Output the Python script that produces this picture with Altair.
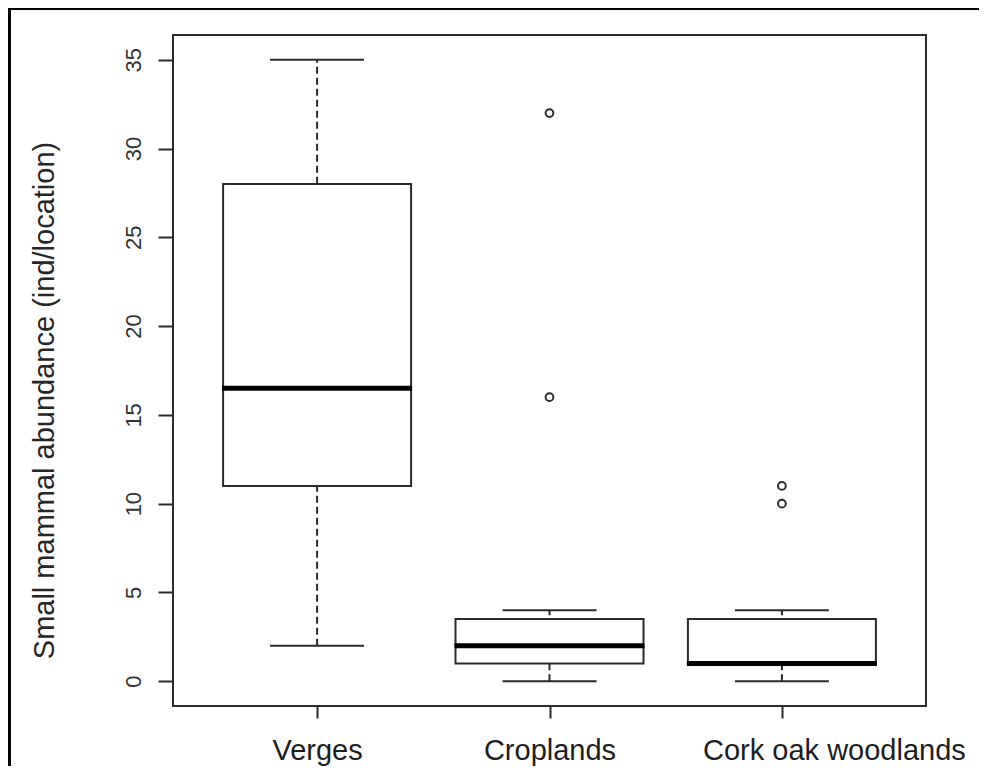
import altair as alt
import pandas as pd

# ---- data ----
categories = ["Verges", "Croplands", "Cork oak woodlands"]
whisker_low = [2, 0, 0]
q1 = [11, 1, 1]
median = [16.5, 2, 1]
q3 = [28, 3.5, 3.5]
whisker_high = [35, 4, 4]

outlier_cat = ["Croplands", "Croplands", "Cork oak woodlands", "Cork oak woodlands"]
outlier_val = [16, 32, 10, 11]

y_ticks = [0, 5, 10, 15, 20, 25, 30, 35]

box_df = pd.DataFrame({
    "habitat": categories,
    "lo": whisker_low,
    "q1": q1,
    "med": median,
    "q3": q3,
    "hi": whisker_high,
})
out_df = pd.DataFrame({"habitat": outlier_cat, "value": outlier_val})
frame_df = pd.DataFrame({"k": [0]})

LINE = "#2b2b2b"
TEXT = "#1e1e1e"
FONT = "Liberation Sans"

x_enc = alt.X(
    "habitat:N",
    sort=categories,
    scale=alt.Scale(type="point", padding=0.62, domain=categories),
    axis=alt.Axis(
        title=None,
        domain=False,
        grid=False,
        labelAngle=0,
        labelFont=FONT,
        labelFontSize=29,
        labelColor=TEXT,
        labelBaseline="alphabetic",
        labelAlign="center",
        labelPadding=41,
        labelOffset={"condition": {"test": "datum.value == 'Cork oak woodlands'", "value": 52},
                     "value": 0},
        labelLimit=600,
        labelOverlap=False,
        labelBound=False,
        tickSize=12,
        tickWidth=2,
        tickColor=LINE,
    ),
)

y_scale = alt.Scale(domain=[-1.4, 36.4], nice=False, zero=False)
y_axis = alt.Axis(
    title="Small mammal abundance (ind/location)",
    values=y_ticks,
    domain=False,
    grid=False,
    labelFont=FONT,
    labelFontSize=22,
    labelColor="#333333",
    labelAngle=270,
    labelAlign="center",
    labelBaseline="alphabetic",
    labelPadding=18,
    tickSize=15,
    tickWidth=2,
    tickColor=LINE,
    titleFont=FONT,
    titleFontSize=29,
    titleFontWeight="normal",
    titleColor="#262626",
    titleAngle=270,
    titleAlign="center",
    titleBaseline="alphabetic",
    titleX=-120,
    titleY=365,
)

# outer black frame of the screenshot (decoration); right/bottom edges fall outside the canvas
frame = alt.Chart(frame_df).mark_rect(
    fillOpacity=0, stroke="black", strokeWidth=3
).encode(
    x=alt.value(-163.5), x2=alt.value(1100), y=alt.value(-26.5), y2=alt.value(1100)
)

base = alt.Chart(box_df)

whisker = base.mark_rule(color=LINE, strokeWidth=2, strokeDash=[7, 4]).encode(
    x=x_enc,
    y=alt.Y("lo:Q", scale=y_scale, axis=y_axis),
    y2="hi:Q",
)

box = base.mark_bar(size=188, fill="white", stroke=LINE, strokeWidth=2).encode(
    x=x_enc,
    y=alt.Y("q1:Q", scale=y_scale),
    y2="q3:Q",
)

med = base.mark_tick(size=190, thickness=5, color="#000000", opacity=1).encode(
    x=x_enc,
    y=alt.Y("med:Q", scale=y_scale),
)

cap_lo = base.mark_tick(size=94, thickness=2, color=LINE, opacity=1).encode(
    x=x_enc,
    y=alt.Y("lo:Q", scale=y_scale),
)
cap_hi = base.mark_tick(size=94, thickness=2, color=LINE, opacity=1).encode(
    x=x_enc,
    y=alt.Y("hi:Q", scale=y_scale),
)

outliers = alt.Chart(out_df).mark_point(
    shape="circle", size=60, filled=False, stroke=LINE, strokeWidth=2, opacity=1
).encode(
    x=x_enc,
    y=alt.Y("value:Q", scale=y_scale),
)

chart = alt.layer(
    whisker, box, med, cap_lo, cap_hi, outliers, frame
).properties(
    width=753,
    height=671,
    autosize=alt.AutoSizeParams(type="none"),
    padding={"left": 165, "top": 27, "right": 53, "bottom": 60},
    background="white",
).configure_view(
    stroke=LINE, strokeWidth=2
)

chart.save("out.html", embed_options={"renderer": "svg", "actions": False})
